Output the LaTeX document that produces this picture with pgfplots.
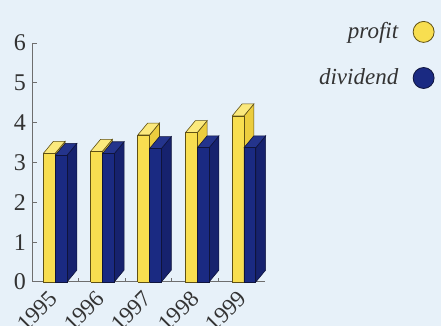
\documentclass[border=0pt]{standalone}
\usepackage{fontspec}
\setmainfont{Liberation Serif}
\usepackage{pgfplots}
\pgfplotsset{compat=1.18}
\definecolor{bg}{RGB}{231,241,249}
\definecolor{yfront}{RGB}{248,222,80}
\definecolor{ytop}{RGB}{251,233,125}
\definecolor{yside}{RGB}{236,205,62}
\definecolor{yedge}{RGB}{95,80,20}
\definecolor{bfront}{RGB}{26,42,130}
\definecolor{btop}{RGB}{36,52,140}
\definecolor{bside}{RGB}{22,34,110}
\definecolor{bedge}{RGB}{15,20,60}
\definecolor{axcol}{RGB}{110,110,110}
\newcommand\bw{0.25}
\newcommand\ddx{0.21}
\newcommand\ddy{0.30}
% #1 left edge, #2 value, #3 front, #4 top, #5 side, #6 edge colour
\newcommand\prism[6]{%
  \pgfmathsetmacro\xa{#1}%
  \pgfmathsetmacro\xb{#1+\bw}%
  \pgfmathsetmacro\xc{#1+\bw+\ddx}%
  \pgfmathsetmacro\xd{#1+\ddx}%
  \pgfmathsetmacro\yt{#2}%
  \pgfmathsetmacro\yu{#2+\ddy}%
  \addplot[forget plot, fill=#5, draw=#6, line width=0.3pt] coordinates {(\xb,0) (\xc,\ddy) (\xc,\yu) (\xb,\yt) (\xb,0)};
  \addplot[forget plot, fill=#4, draw=#6, line width=0.3pt] coordinates {(\xa,\yt) (\xb,\yt) (\xc,\yu) (\xd,\yu) (\xa,\yt)};
  \addplot[forget plot, fill=#3, draw=#6, line width=0.3pt] coordinates {(\xa,0) (\xb,0) (\xb,\yt) (\xa,\yt) (\xa,0)};
}
% #1 group left, #2 profit, #3 dividend
\newcommand\pair[3]{%
  \prism{#1}{#2}{yfront}{ytop}{yside}{yedge}%
  \pgfmathsetmacro\xe{#1+\bw}%
  \expandafter\prism\expandafter{\xe}{#3}{bfront}{btop}{bside}{bedge}%
}
\begin{document}
\begin{tikzpicture}
\path[use as bounding box, fill=bg] (-16.5pt,-22pt) rectangle (204pt,141pt);
\begin{axis}[
  at={(0,0)}, anchor=south west, scale only axis,
  width=116.1pt, height=119.5pt,
  xmin=0, xmax=4.92, ymin=0, ymax=6,
  axis lines=left, axis line style={-, axcol, line width=0.5pt},
  clip=false,
  ytick={0,1,2,3,4,5,6},
  tick align=inside, major tick length=2.2pt,
  tick style={axcol, line width=0.5pt},
  xtick={0.97,1.95,2.94,3.92},
  xticklabels={},
  extra x ticks={0.37,1.37,2.37,3.37,4.37},
  extra x tick labels={1995,1996,1997,1998,1999},
  extra x tick style={major tick length=0pt,
    tick label style={rotate=45, anchor=north east, yshift=1.8pt,
      font=\fontsize{11.5}{13}\selectfont}},
  tick label style={font=\fontsize{12}{14}\selectfont, text=black!80},
  /pgf/number format/assume math mode=true,
  legend plot pos=right,
  legend cell align=right,
  legend style={at={(axis description cs:1.731,1.105)}, anchor=north east,
    draw=none, fill=none, inner sep=0pt, row sep=9.5pt,
    font=\itshape\fontsize{11.5}{13}\selectfont, text=black!80},
]
\pair{0.22}{3.23}{3.18}
\pair{1.22}{3.28}{3.22}
\pair{2.22}{3.69}{3.35}
\pair{3.23}{3.75}{3.37}
\pair{4.22}{4.17}{3.37}
\addlegendimage{legend image code/.code={\path (0,0); \draw[draw=yedge, fill=yfront, line width=0.4pt] (10.5pt,0) circle (5.25pt);}}
\addlegendentry{profit}
\addlegendimage{legend image code/.code={\path (0,0); \draw[draw=bedge, fill=bfront, line width=0.4pt] (10.5pt,0) circle (5.25pt);}}
\addlegendentry{dividend}
\end{axis}
\end{tikzpicture}
\end{document}
